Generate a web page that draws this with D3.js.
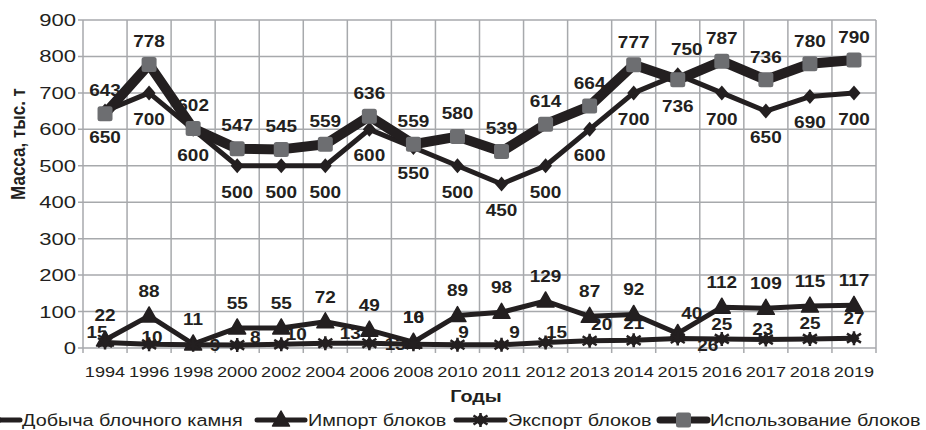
<!DOCTYPE html>
<html>
<head>
<meta charset="utf-8">
<script src="https://cdn.jsdelivr.net/npm/d3@7"></script>
<style>
  html, body { margin: 0; padding: 0; background: #fff; }
  svg { display: block; }
</style>
</head>
<body>
<svg id="chart" width="926" height="430"></svg>
<script>
// ---- data ----
const years = ['1994','1996','1998','2000','2002','2004','2006','2008','2010','2011',
               '2012','2013','2014','2015','2016','2017','2018','2019'];
const mining  = [650,700,600,500,500,500,600,550,500,450,500,600,700,750,700,650,690,700];
const imports = [22,88,11,55,55,72,49,16,89,98,129,87,92,40,112,109,115,117];
const exports = [15,10,9,8,10,13,13,10,9,9,15,20,21,26,25,23,25,27];
const usage   = [643,778,602,547,545,559,636,559,580,539,614,664,777,736,787,736,780,790];
const yTicks  = [0,100,200,300,400,500,600,700,800,900];

const seriesNames = ['Добыча блочного камня','Импорт блоков','Экспорт блоков','Использование блоков'];
const yTitle = 'Масса, тыс. т';
const xTitle = 'Годы';

// ---- label placement (offset of label centre from its point) ----
const miningLabelOff = years.map((y, i) => i === 13 ? [9, -25] : [0, 26]);
const usageLabelOff  = years.map((y, i) => i === 13 ? [0, 26] : [0, -23]);
const importLabelOff = years.map((y, i) => i === 13 ? [14, -20] : [0, -25]);
const exportLabelOff = [[-8,-10],[3,-7],[22,0],[18,-8],[15,-10],[25,-10],[26,1],[0,-27],[6,-13],
                        [13,-13],[11,-10],[12,-16],[0,-17],[30,7],[0,-15],[-3,-10],[0,-16],[0,-20]];

// ---- layout ----
const W = 926, H = 430;
const plot = { left: 83, right: 876, top: 20, bottom: 348 };
const SX = 1.2;             // horizontal stretch of lettering
const INK = '#231f20';
const GRID = '#a7a9ac';
const GREY = '#6d6e71';

const svg = d3.select('#chart');
svg.append('rect').attr('width', W).attr('height', H).attr('fill', '#fff');

const x = d3.scalePoint().domain(years).range([plot.left, plot.right]).padding(0.5);
const y = d3.scaleLinear().domain([0, 900]).range([plot.bottom, plot.top]);
const step = x.step();

function label(g, px, py, str, o) {
  o = o || {};
  return g.append('text')
    .attr('transform', `translate(${px},${py}) scale(${o.sx || SX},1)` + (o.rot ? ` rotate(${o.rot})` : ''))
    .attr('text-anchor', o.anchor || 'middle')
    .attr('dy', o.dy || '0.35em')
    .attr('font-family', 'Liberation Sans, Arial, sans-serif')
    .attr('font-size', o.size || 17)
    .attr('font-weight', o.bold ? 'bold' : 'normal')
    .attr('fill', INK)
    .text(str);
}

// ---- grid ----
const grid = svg.append('g');
yTicks.forEach(t => {
  grid.append('line').attr('x1', plot.left - 5).attr('x2', plot.right)
    .attr('y1', y(t)).attr('y2', y(t))
    .attr('stroke', GRID).attr('stroke-width', 1.5);
});
d3.range(years.length + 1).forEach(i => {
  const gx = plot.left + i * step;
  grid.append('line').attr('x1', gx).attr('x2', gx)
    .attr('y1', plot.top).attr('y2', plot.bottom + 5)
    .attr('stroke', GRID).attr('stroke-width', 1.5);
});

// ---- axes labels ----
const axisG = svg.append('g');
yTicks.forEach(t => label(axisG, 76, y(t), String(t), { anchor: 'end', size: 17, sx: 1.3 }));
years.forEach(yr => label(axisG, x(yr), 372, yr, { size: 15.5, sx: 1.17 }));
label(axisG, 476, 396, xTitle, { bold: true, size: 16.5 });
label(axisG, 18, 144, yTitle, { bold: true, size: 17, rot: -90, sx: 1.15 });

// ---- data labels (under the lines) ----
const lblG = svg.append('g');
function drawLabels(values, offs) {
  values.forEach((v, i) => {
    label(lblG, x(years[i]) + offs[i][0], y(v) + offs[i][1], String(v), { bold: true, size: 16.5, sx: 1.15 });
  });
}
drawLabels(mining, miningLabelOff);
drawLabels(imports, importLabelOff);
drawLabels(exports, exportLabelOff);
drawLabels(usage, usageLabelOff);

// ---- markers ----
const markers = {
  diamond: (g, cx, cy) => g.append('path')
    .attr('d', `M${cx},${cy-7.5}L${cx+6.5},${cy}L${cx},${cy+7.5}L${cx-6.5},${cy}Z`).attr('fill', INK),
  triangle: (g, cx, cy) => g.append('path')
    .attr('d', `M${cx},${cy-9}L${cx+8.5},${cy+6}L${cx-8.5},${cy+6}Z`).attr('fill', INK)
    .attr('stroke', INK).attr('stroke-width', 1.5).attr('stroke-linejoin', 'round'),
  star: (g, cx, cy) => {
    g.append('path').attr('d', `M${cx},${cy-6.5}L${cx+5.5},${cy}L${cx},${cy+6.5}L${cx-5.5},${cy}Z`).attr('fill', INK);
    g.append('path').attr('d', `M${cx-7},${cy-4.5}L${cx+7},${cy+4.5}M${cx-7},${cy+4.5}L${cx+7},${cy-4.5}M${cx},${cy-7}L${cx},${cy+7}`)
      .attr('stroke', INK).attr('stroke-width', 2.5);
  },
  square: (g, cx, cy) => g.append('rect')
    .attr('x', cx - 7.5).attr('y', cy - 7.5).attr('width', 15).attr('height', 15).attr('rx', 2.5)
    .attr('fill', GREY)
};

const series = [
  { name: seriesNames[0], values: mining,  width: 5, marker: 'diamond' },
  { name: seriesNames[1], values: imports, width: 5, marker: 'triangle' },
  { name: seriesNames[2], values: exports, width: 5, marker: 'star' },
  { name: seriesNames[3], values: usage,   width: 10, marker: 'square' }
];

const line = d3.line().x((d, i) => x(years[i])).y(d => y(d));
series.forEach(s => {
  const g = svg.append('g');
  g.append('path').attr('d', line(s.values)).attr('fill', 'none')
    .attr('stroke', INK).attr('stroke-width', s.width).attr('stroke-linejoin', 'round');
  s.values.forEach((v, i) => markers[s.marker](g, x(years[i]), y(v)));
});

// ---- legend ----
const legend = svg.append('g');
const legendItems = [
  { x0: -28, x1: 20, tx: 22 },
  { x0: 257, x1: 305, tx: 308 },
  { x0: 456, x1: 505, tx: 508 },
  { x0: 660, x1: 707, tx: 710 }
];
series.forEach((s, i) => {
  const it = legendItems[i];
  const ly = 420;
  legend.append('line').attr('x1', it.x0).attr('x2', it.x1).attr('y1', ly).attr('y2', ly)
    .attr('stroke', INK).attr('stroke-width', Math.min(s.width, 7)).attr('stroke-linecap', 'round');
  markers[s.marker](legend, (it.x0 + it.x1) / 2, ly);
  label(legend, it.tx, ly, s.name, { anchor: 'start', size: 16.5, sx: 1.2 });
});
</script>
</body>
</html>
